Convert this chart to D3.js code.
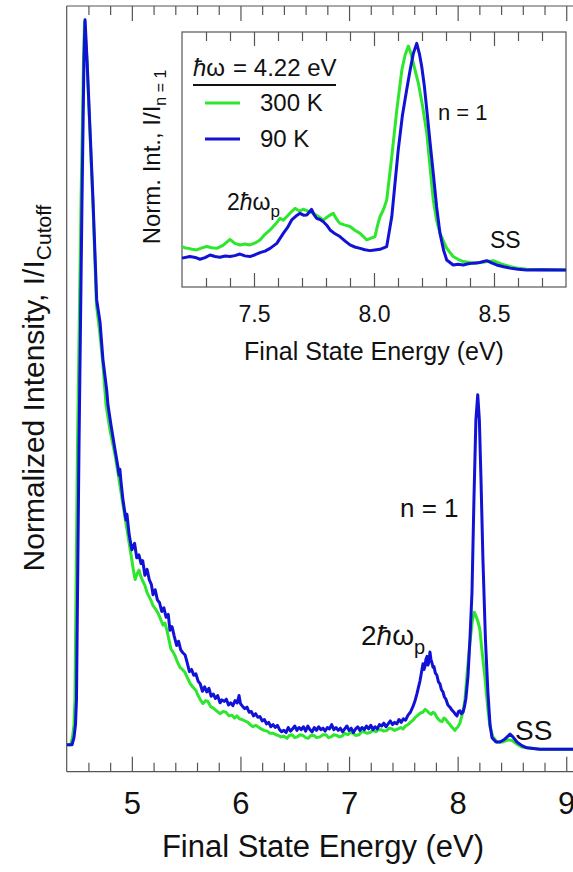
<!DOCTYPE html>
<html>
<head>
<meta charset="utf-8">
<script src="https://cdn.jsdelivr.net/npm/d3@7"></script>
<style>
  body { margin: 0; background: #fff; }
  svg { display: block; font-family: "Liberation Sans", Arial, sans-serif; }
</style>
</head>
<body>
<div id="vis"></div>
<script>
//Main spectrum, 90 K (energy in eV, intensity normalised to the cutoff peak)
var main90K = [[4.40,0.000],[4.449,0.000],[4.467,0.010],[4.481,0.028],[4.490,0.062],[4.513,0.407],[4.541,0.752],[4.559,0.945],[4.569,1.000],[4.587,0.945],[4.615,0.848],[4.642,0.752],[4.676,0.614],[4.707,0.583],[4.734,0.531],[4.768,0.490],[4.780,0.469],[4.808,0.441],[4.845,0.407],[4.870,0.385],[4.882,0.372],[4.890,0.380],[4.900,0.363],[4.918,0.338],[4.946,0.310],[4.955,0.318],[4.975,0.290],
  [5.000,0.269],[5.025,0.278],[5.045,0.258],[5.065,0.262],[5.085,0.250],[5.100,0.254],[5.120,0.234],[5.140,0.242],[5.160,0.228],[5.180,0.221],[5.195,0.207],[5.215,0.214],[5.235,0.200],[5.255,0.196],[5.275,0.184],[5.295,0.189],[5.315,0.176],[5.335,0.180],[5.351,0.158],[5.370,0.163],[5.390,0.150],[5.413,0.137],[5.430,0.143],[5.450,0.131],[5.470,0.127],[5.490,0.124],[5.510,0.113],[5.530,0.101],[5.550,0.104],[5.570,0.096],[5.590,0.098],[5.610,0.088],[5.630,0.084],[5.650,0.074],[5.670,0.080],[5.690,0.073],[5.710,0.078],[5.730,0.067],[5.750,0.070],[5.770,0.064],[5.790,0.068],[5.812,0.058],[5.830,0.062],[5.850,0.060],[5.870,0.063],[5.890,0.055],[5.910,0.058],[5.930,0.054],[5.950,0.061],[5.970,0.058],[5.987,0.068],[6.000,0.057],[6.020,0.053],[6.040,0.050],[6.060,0.052],[6.080,0.045],[6.100,0.046],[6.120,0.040],[6.140,0.043],[6.160,0.038],[6.180,0.039],[6.200,0.033],[6.220,0.035],[6.240,0.029],[6.260,0.031],[6.280,0.025],[6.300,0.028],[6.320,0.024],[6.340,0.027],[6.360,0.021],[6.380,0.018],[6.400,0.020],[6.420,0.017],[6.440,0.024],[6.460,0.019],[6.480,0.022],[6.500,0.026],[6.520,0.020],[6.540,0.024],[6.560,0.021],[6.580,0.025],[6.600,0.019],[6.620,0.026],[6.640,0.021],[6.660,0.018],[6.680,0.024],[6.700,0.020],[6.720,0.025],[6.740,0.021],[6.760,0.023],[6.780,0.019],[6.800,0.024],[6.820,0.022],[6.840,0.028],[6.860,0.021],[6.880,0.024],[6.900,0.020],[6.920,0.023],[6.940,0.018],[6.960,0.022],[6.980,0.026],[7.000,0.020],[7.020,0.023],[7.040,0.017],[7.060,0.022],[7.080,0.025],[7.100,0.020],[7.120,0.024],[7.140,0.021],[7.160,0.026],[7.180,0.022],[7.200,0.027],[7.220,0.021],[7.240,0.025],[7.260,0.022],[7.280,0.028],[7.300,0.026],[7.320,0.030],[7.340,0.025],[7.360,0.029],[7.380,0.033],[7.400,0.028],[7.420,0.031],[7.440,0.029],[7.460,0.035],[7.480,0.031],[7.500,0.036],[7.520,0.034],[7.543,0.041],[7.565,0.045],[7.589,0.053],
  [7.610,0.062],[7.626,0.071],[7.640,0.080],[7.653,0.088],[7.668,0.101],[7.681,0.112],[7.690,0.104],[7.699,0.108],[7.708,0.118],[7.718,0.122],[7.727,0.110],[7.736,0.115],[7.745,0.128],[7.754,0.118],[7.764,0.113],[7.773,0.107],[7.782,0.108],[7.795,0.099],[7.809,0.096],[7.823,0.087],[7.837,0.084],[7.851,0.076],[7.865,0.073],[7.878,0.066],[7.892,0.063],[7.910,0.055],[7.929,0.052],[7.947,0.048],[7.966,0.045],[7.980,0.042],[7.994,0.040],[8.008,0.046],[8.021,0.047],[8.035,0.043],[8.049,0.045],[8.062,0.052],[8.076,0.064],[8.095,0.094],[8.113,0.145],[8.132,0.210],[8.150,0.338],[8.168,0.448],[8.185,0.483],[8.200,0.448],[8.215,0.366],[8.233,0.255],[8.256,0.145],[8.279,0.072],[8.298,0.028],[8.316,0.010],[8.353,0.004],[8.390,0.004],[8.426,0.007],[8.463,0.012],[8.482,0.015],[8.509,0.011],[8.546,0.004],[8.592,-0.001],[8.638,-0.004],[8.757,-0.006],[8.895,-0.006],[9.100,-0.006]];

//Main spectrum, 300 K
var main300K = [[4.40,0.000],[4.435,0.000],[4.453,0.010],[4.467,0.028],[4.476,0.062],[4.499,0.407],[4.532,0.752],[4.555,0.945],[4.564,0.997],[4.587,0.943],[4.615,0.841],[4.642,0.745],[4.674,0.607],[4.707,0.565],[4.734,0.524],[4.762,0.469],[4.799,0.434],[4.845,0.400],[4.882,0.366],[4.918,0.331],[4.955,0.297],
  [5.000,0.255],[5.015,0.240],[5.030,0.228],[5.048,0.236],[5.066,0.241],[5.083,0.232],[5.100,0.226],[5.120,0.220],[5.140,0.210],[5.160,0.204],[5.180,0.198],[5.195,0.192],[5.215,0.188],[5.240,0.182],[5.260,0.175],[5.287,0.165],[5.305,0.168],[5.323,0.158],[5.340,0.146],[5.360,0.132],[5.380,0.128],[5.400,0.122],[5.420,0.114],[5.443,0.107],[5.465,0.104],[5.489,0.100],[5.510,0.093],[5.535,0.085],[5.560,0.080],[5.590,0.075],[5.610,0.068],[5.635,0.061],[5.655,0.057],[5.680,0.061],[5.700,0.060],[5.725,0.053],[5.756,0.050],[5.780,0.047],[5.812,0.043],[5.840,0.046],[5.867,0.045],[5.895,0.040],[5.922,0.041],[5.945,0.037],[5.968,0.040],[5.990,0.036],[6.014,0.035],[6.040,0.033],[6.069,0.031],[6.090,0.028],[6.115,0.025],[6.140,0.027],[6.161,0.025],[6.190,0.022],[6.216,0.020],[6.245,0.019],[6.272,0.016],[6.300,0.016],[6.327,0.014],[6.350,0.013],[6.373,0.011],[6.400,0.012],[6.429,0.009],[6.450,0.013],[6.475,0.014],[6.500,0.010],[6.521,0.011],[6.550,0.014],[6.576,0.013],[6.600,0.010],[6.622,0.009],[6.650,0.013],[6.677,0.013],[6.700,0.010],[6.732,0.011],[6.760,0.014],[6.788,0.014],[6.810,0.010],[6.834,0.011],[6.860,0.014],[6.889,0.013],[6.910,0.011],[6.935,0.012],[6.960,0.016],[6.990,0.014],[7.010,0.017],[7.036,0.016],[7.060,0.013],[7.092,0.014],[7.115,0.018],[7.138,0.018],[7.165,0.016],[7.193,0.017],[7.220,0.020],[7.248,0.018],[7.270,0.021],[7.294,0.021],[7.320,0.019],[7.349,0.020],[7.370,0.023],[7.396,0.022],[7.420,0.020],[7.451,0.022],[7.475,0.024],[7.497,0.022],[7.520,0.026],[7.543,0.028],[7.565,0.031],[7.589,0.034],
  [7.610,0.038],[7.635,0.041],[7.658,0.044],[7.681,0.045],[7.700,0.049],[7.718,0.047],[7.737,0.044],[7.755,0.042],[7.773,0.045],[7.791,0.043],[7.805,0.039],[7.819,0.036],[7.838,0.033],[7.856,0.032],[7.874,0.037],[7.892,0.035],[7.910,0.031],[7.929,0.028],[7.950,0.024],[7.975,0.020],[7.990,0.023],[8.003,0.025],[8.021,0.030],[8.049,0.046],[8.067,0.062],[8.090,0.103],[8.113,0.141],[8.136,0.172],[8.153,0.183],[8.168,0.178],[8.187,0.170],[8.205,0.159],[8.223,0.131],[8.251,0.094],[8.279,0.048],[8.298,0.025],[8.325,0.011],[8.362,0.004],[8.417,0.004],[8.463,0.007],[8.500,0.006],[8.546,0.001],[8.592,-0.003],[8.638,-0.004],[8.757,-0.006],[9.100,-0.006]];

//Inset spectra, normalised to the n = 1 peak
var inset90K = [[7.200,0.055],[7.233,0.062],[7.255,0.058],[7.275,0.050],[7.296,0.057],[7.317,0.069],[7.338,0.062],[7.358,0.059],[7.380,0.064],[7.400,0.062],[7.420,0.066],[7.442,0.073],[7.462,0.065],[7.483,0.062],[7.505,0.070],[7.525,0.079],[7.546,0.086],[7.567,0.098],[7.595,0.120],[7.622,0.164],[7.640,0.190],[7.657,0.223],[7.675,0.240],[7.692,0.252],[7.706,0.244],[7.720,0.245],[7.740,0.270],[7.750,0.246],[7.761,0.230],[7.775,0.225],[7.789,0.215],[7.803,0.200],[7.817,0.179],[7.838,0.162],[7.858,0.150],[7.880,0.130],[7.900,0.113],[7.920,0.104],[7.942,0.098],[7.962,0.092],[7.983,0.088],[8.003,0.091],[8.025,0.094],[8.053,0.106],[8.074,0.237],[8.088,0.390],[8.101,0.531],[8.118,0.680],[8.136,0.795],[8.150,0.880],[8.164,0.956],[8.178,1.000],[8.190,0.950],[8.199,0.897],[8.210,0.810],[8.220,0.707],[8.234,0.560],[8.247,0.428],[8.261,0.280],[8.275,0.164],[8.290,0.090],[8.303,0.047],[8.330,0.025],[8.350,0.028],[8.372,0.025],[8.393,0.030],[8.414,0.033],[8.440,0.036],[8.470,0.044],[8.490,0.034],[8.511,0.025],[8.540,0.017],[8.567,0.011],[8.600,0.006],[8.636,0.003],[8.700,0.004],[8.800,0.003]];

var inset300K = [[7.200,0.106],[7.213,0.100],[7.226,0.098],[7.243,0.094],[7.261,0.091],[7.283,0.100],[7.303,0.106],[7.324,0.101],[7.345,0.098],[7.372,0.112],[7.400,0.138],[7.420,0.120],[7.442,0.113],[7.462,0.117],[7.483,0.113],[7.505,0.122],[7.525,0.135],[7.546,0.160],[7.567,0.179],[7.590,0.205],[7.608,0.230],[7.622,0.222],[7.636,0.237],[7.655,0.258],[7.671,0.274],[7.688,0.262],[7.705,0.270],[7.726,0.262],[7.747,0.252],[7.768,0.238],[7.789,0.223],[7.810,0.240],[7.830,0.252],[7.845,0.225],[7.858,0.208],[7.880,0.200],[7.900,0.194],[7.920,0.178],[7.942,0.164],[7.956,0.150],[7.970,0.135],[7.988,0.143],[8.004,0.150],[8.015,0.200],[8.025,0.237],[8.040,0.270],[8.053,0.311],[8.074,0.501],[8.095,0.707],[8.116,0.883],[8.130,0.950],[8.143,0.988],[8.154,0.955],[8.164,0.912],[8.185,0.824],[8.203,0.720],[8.220,0.604],[8.234,0.450],[8.247,0.311],[8.261,0.220],[8.275,0.164],[8.303,0.098],[8.330,0.062],[8.350,0.050],[8.372,0.040],[8.400,0.036],[8.428,0.033],[8.460,0.038],[8.497,0.044],[8.530,0.030],[8.567,0.018],[8.600,0.010],[8.636,0.006],[8.700,0.004],[8.800,0.003]];

//Tick values and labels
var mainMajorTicks = [5, 6, 7, 8, 9];
var mainMinorTicks = [4.6, 4.8, 5.2, 5.4, 5.6, 5.8, 6.2, 6.4, 6.6, 6.8, 7.2, 7.4, 7.6, 7.8, 8.2, 8.4, 8.6, 8.8, 9.2];
var insetMajorTicks = [7.5, 8.0, 8.5];
var insetMinorTicks = [7.3, 7.4, 7.6, 7.7, 7.8, 7.9, 8.1, 8.2, 8.3, 8.4, 8.6, 8.7];

var seriesColor = {"300 K": "#2ee62e", "90 K": "#1212d6"};
var frameColor = "#555";

var width = 573, height = 872;

var svg = d3.select("#vis").append("svg")
    .attr("width", width)
    .attr("height", height);

//Main plot scales (right edge of the frame falls just outside the picture)
var x = d3.scaleLinear().domain([4.4, 9.1]).range([66.7, 577.1]);
var y = d3.scaleLinear().domain([-0.037, 1.019]).range([771.7, 6]);

//Inset scales
var xi = d3.scaleLinear().domain([7.2, 8.8]).range([182, 566]);
var yi = d3.scaleLinear().domain([-0.072, 1.05]).range([287, 32]);

function styleAxis(g) {
  g.selectAll("path, line").attr("stroke", frameColor).attr("stroke-width", 1.2);
  g.select(".domain").remove();
}

//Main frame
svg.append("line")
    .attr("x1", x.range()[0]).attr("x2", x.range()[0])
    .attr("y1", y.range()[1]).attr("y2", y.range()[0])
    .attr("stroke", frameColor).attr("stroke-width", 1.2);
svg.append("line")
    .attr("x1", x.range()[0]).attr("x2", x.range()[1])
    .attr("y1", y.range()[0]).attr("y2", y.range()[0])
    .attr("stroke", frameColor).attr("stroke-width", 1.2);
svg.append("line")
    .attr("x1", x.range()[0]).attr("x2", x.range()[1])
    .attr("y1", y.range()[1]).attr("y2", y.range()[1])
    .attr("stroke", frameColor).attr("stroke-width", 1.2);

//Bottom ticks with labels (pointing inward)
svg.append("g")
    .attr("transform", "translate(0," + y.range()[0] + ")")
    .call(d3.axisBottom(x).tickValues(mainMajorTicks).tickSize(-15).tickPadding(20).tickFormat(d3.format("d")))
    .call(styleAxis)
    .call(function(g) {
      g.selectAll("text").attr("font-size", 31).attr("font-family", "Liberation Sans, Arial, sans-serif").attr("fill", "#111");
    });
svg.append("g")
    .attr("transform", "translate(0," + y.range()[0] + ")")
    .call(d3.axisBottom(x).tickValues(mainMinorTicks).tickSize(-9).tickFormat(""))
    .call(styleAxis);

//Top ticks
svg.append("g")
    .attr("transform", "translate(0," + y.range()[1] + ")")
    .call(d3.axisTop(x).tickValues(mainMajorTicks).tickSize(-15).tickFormat(""))
    .call(styleAxis);
svg.append("g")
    .attr("transform", "translate(0," + y.range()[1] + ")")
    .call(d3.axisTop(x).tickValues(mainMinorTicks).tickSize(-9).tickFormat(""))
    .call(styleAxis);

//Main curves
var mainLine = d3.line()
    .x(function(d) { return x(d[0]); })
    .y(function(d) { return y(d[1]); });

var mainSeries = [{name: "300 K", values: main300K}, {name: "90 K", values: main90K}];

svg.selectAll(".mainCurve")
    .data(mainSeries)
    .enter().append("path")
    .attr("class", "mainCurve")
    .attr("d", function(d) { return mainLine(d.values); })
    .attr("fill", "none")
    .attr("stroke", function(d) { return seriesColor[d.name]; })
    .attr("stroke-width", 3)
    .attr("stroke-linejoin", "round");

//Main axis titles
svg.append("text")
    .attr("x", 323).attr("y", 857)
    .attr("text-anchor", "middle")
    .attr("font-size", 31)
    .attr("fill", "#111")
    .text("Final State Energy (eV)");

var yTitle = svg.append("text")
    .attr("transform", "translate(44,388) rotate(-90)")
    .attr("text-anchor", "middle")
    .attr("font-size", 30)
    .attr("fill", "#111");
yTitle.append("tspan").text("Normalized Intensity,  I/I");
yTitle.append("tspan").attr("font-size", 21).attr("dy", 7).text("Cutoff");

//Main annotations
svg.append("text").attr("x", 400).attr("y", 517).attr("font-size", 26).attr("fill", "#111").text("n = 1");

var mainPlasmon = svg.append("text").attr("x", 361).attr("y", 645).attr("font-size", 28).attr("fill", "#111");
mainPlasmon.append("tspan").text("2");
mainPlasmon.append("tspan").attr("font-style", "italic").text("ħ");
mainPlasmon.append("tspan").text("ω");
mainPlasmon.append("tspan").attr("font-size", 20).attr("dy", 9).text("p");

svg.append("text").attr("x", 515).attr("y", 740).attr("font-size", 28).attr("fill", "#111").text("SS");

//Inset frame
svg.append("rect")
    .attr("x", xi.range()[0]).attr("y", yi.range()[1])
    .attr("width", xi.range()[1] - xi.range()[0])
    .attr("height", yi.range()[0] - yi.range()[1])
    .attr("fill", "#fff")
    .attr("stroke", frameColor).attr("stroke-width", 1.2);

svg.append("g")
    .attr("transform", "translate(0," + yi.range()[0] + ")")
    .call(d3.axisBottom(xi).tickValues(insetMajorTicks).tickSize(-14).tickPadding(19).tickFormat(d3.format(".1f")))
    .call(styleAxis)
    .call(function(g) {
      g.selectAll("text").attr("font-size", 23).attr("font-family", "Liberation Sans, Arial, sans-serif").attr("fill", "#111");
    });
svg.append("g")
    .attr("transform", "translate(0," + yi.range()[0] + ")")
    .call(d3.axisBottom(xi).tickValues(insetMinorTicks).tickSize(-9).tickFormat(""))
    .call(styleAxis);
svg.append("g")
    .attr("transform", "translate(0," + yi.range()[1] + ")")
    .call(d3.axisTop(xi).tickValues(insetMajorTicks).tickSize(-14).tickFormat(""))
    .call(styleAxis);
svg.append("g")
    .attr("transform", "translate(0," + yi.range()[1] + ")")
    .call(d3.axisTop(xi).tickValues(insetMinorTicks).tickSize(-9).tickFormat(""))
    .call(styleAxis);

//Inset curves
var insetLine = d3.line()
    .x(function(d) { return xi(d[0]); })
    .y(function(d) { return yi(d[1]); });

var insetSeries = [{name: "300 K", values: inset300K}, {name: "90 K", values: inset90K}];

svg.selectAll(".insetCurve")
    .data(insetSeries)
    .enter().append("path")
    .attr("class", "insetCurve")
    .attr("d", function(d) { return insetLine(d.values); })
    .attr("fill", "none")
    .attr("stroke", function(d) { return seriesColor[d.name]; })
    .attr("stroke-width", 3)
    .attr("stroke-linejoin", "round");

//Inset titles
svg.append("text")
    .attr("x", 374).attr("y", 360)
    .attr("text-anchor", "middle")
    .attr("font-size", 25)
    .attr("fill", "#111")
    .text("Final State Energy (eV)");

var yiTitle = svg.append("text")
    .attr("transform", "translate(160,157) rotate(-90)")
    .attr("text-anchor", "middle")
    .attr("font-size", 24)
    .attr("fill", "#111");
yiTitle.append("tspan").text("Norm. Int.,  I/I");
yiTitle.append("tspan").attr("font-size", 16).attr("dy", 6).text("n = 1");

//Legend
var legendTitle = svg.append("text").attr("x", 193).attr("y", 76).attr("font-size", 24).attr("fill", "#111");
legendTitle.append("tspan").attr("font-style", "italic").text("ħ");
legendTitle.append("tspan").text("ω");
legendTitle.append("tspan").attr("dx", 8).text("= 4.22 eV");

svg.append("line")
    .attr("x1", 193).attr("x2", 336).attr("y1", 85).attr("y2", 85)
    .attr("stroke", "#111").attr("stroke-width", 2);

var legendRows = svg.selectAll(".legendRow")
    .data(["300 K", "90 K"])
    .enter().append("g")
    .attr("class", "legendRow")
    .attr("transform", function(d, i) { return "translate(0," + (103 + i * 36) + ")"; });

legendRows.append("line")
    .attr("x1", 205).attr("x2", 240)
    .attr("stroke", function(d) { return seriesColor[d]; })
    .attr("stroke-width", 3);

legendRows.append("text")
    .attr("x", 260).attr("y", 8)
    .attr("font-size", 24)
    .attr("fill", "#111")
    .text(function(d) { return d; });

//Inset annotations
svg.append("text").attr("x", 438).attr("y", 120).attr("font-size", 22).attr("fill", "#111").text("n = 1");

var insetPlasmon = svg.append("text").attr("x", 227).attr("y", 210).attr("font-size", 23).attr("fill", "#111");
insetPlasmon.append("tspan").text("2");
insetPlasmon.append("tspan").attr("font-style", "italic").text("ħ");
insetPlasmon.append("tspan").text("ω");
insetPlasmon.append("tspan").attr("font-size", 17).attr("dy", 7).text("p");

svg.append("text").attr("x", 490).attr("y", 248).attr("font-size", 23).attr("fill", "#111").text("SS");
</script>
</body>
</html>
